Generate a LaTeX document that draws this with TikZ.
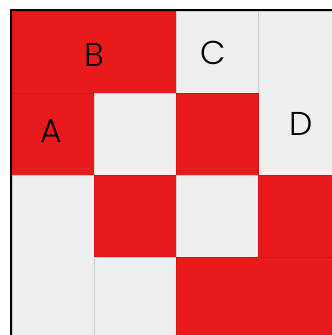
\documentclass[tikz,border=0pt]{standalone}
\usepackage{fontspec}
\setmainfont{Poppins}[UprightFont=* Light]
\definecolor{cellred}{RGB}{233,26,26}
\definecolor{cellgrey}{RGB}{239,239,239}

\begin{document}
\begin{tikzpicture}[x=1pt, y=-1pt,
		redcell/.style={fill=cellred, draw=cellred!88!black, line width=0.5pt},
		greycell/.style={fill=cellgrey, draw=black!20, line width=0.5pt},
		letter/.style={font=\fontsize{33}{33}\selectfont, inner sep=0pt},
	]
	\useasboundingbox (0,0) rectangle (332,335);
	\clip (0,0) rectangle (332,335);
	\fill[white] (0,0) rectangle (332,335);

	% first row
	\filldraw[redcell] (12,11) rectangle (176,93);
	\filldraw[greycell] (176,11) rectangle (258,93);
	\filldraw[greycell] (258,11) rectangle (340,175);
	% second row
	\filldraw[redcell] (12,93) rectangle (94,175);
	\filldraw[greycell] (94,93) rectangle (176,175);
	\filldraw[redcell] (176,93) rectangle (258,175);
	% third and fourth rows
	\filldraw[greycell] (12,175) rectangle (94,339);
	\filldraw[redcell] (94,175) rectangle (176,257);
	\filldraw[greycell] (176,175) rectangle (258,257);
	\filldraw[redcell] (258,175) rectangle (340,257);
	\filldraw[greycell] (94,257) rectangle (176,339);
	\filldraw[redcell] (176,257) rectangle (340,339);

	\draw[line width=2pt] (11,336) -- (11,10) -- (333,10);

	\node[letter] (labB) at (94,54.5) {B};
	\node[letter] (labC) at (213.5,53) {C};
	\node[letter] (labA) at (51,131) {A};
	\node[letter] (labD) at (301,123.5) {D};
\end{tikzpicture}
\end{document}
